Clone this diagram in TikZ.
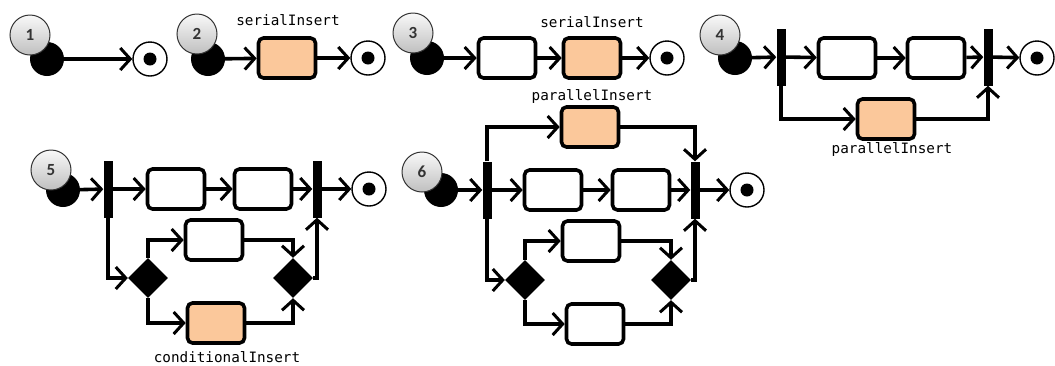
\documentclass[tikz,border=0pt]{standalone}
\usepackage{fontspec}
\usepackage{xcolor}
\usepackage{tikz}
\usetikzlibrary{arrows.meta, positioning, shapes.geometric}
\newfontfamily\numfont{Carlito}
\newfontfamily\codefont{DejaVu Sans Mono}
\definecolor{insfill}{RGB}{251,200,155}

\begin{document}
\begin{tikzpicture}[x=1pt, y=-1pt, % pixel grid, y downwards
          flow/.style={line width=3.6pt, -{Straight Barb[length=10pt, width=22pt, line width=3pt]}},
          numball/.style={circle, draw=black!80, line width=1pt, top color=gray!5, bottom color=gray!50, minimum size=40pt, inner sep=0pt, text=black!80, font=\numfont\fontsize{17}{17}\selectfont\bfseries},
          start/.style={circle, fill=black, minimum size=34pt, inner sep=0pt},
          final/.style={circle, draw, fill=white, line width=1.4pt, minimum size=34pt, inner sep=0pt, path picture={\fill[black] (path picture bounding box.center) circle (6.5pt);}},
          act/.style={rectangle, rounded corners=5pt, draw, line width=3.6pt, fill=white, minimum width=57pt, minimum height=40pt, inner sep=0pt},
          ins/.style={act, fill=insfill},
          bar/.style={rectangle, fill=black, minimum width=9pt, minimum height=57pt, inner sep=0pt},
          choice/.style={diamond, fill=black, minimum size=40pt, inner sep=0pt},
          label/.style={font=\codefont\fontsize{14.3}{16}\selectfont}
        ]
        \useasboundingbox (0,0) rectangle (1055,365);

        % 1: start -> end
        \node[start] (s1) at (47,59) {};
        \node[numball] (n1) at (30,35) {1};
        \node[final] (e1) at (150,59) {};
        \draw[flow] (s1) -- (e1);

        % 2: serial insert into empty flow
        \node[start] (s2) at (208,59) {};
        \node[numball] (n2) at (197,34) {2};
        \node[ins] (i2) at (287,58) {};
        \node[label] (l2) at (288,20) {serialInsert};
        \node[final] (e2) at (368,58) {};
        \draw[flow] (s2) -- (i2);
        \draw[flow] (i2) -- (e2);

        % 3: serial insert after an activity
        \node[start] (s3) at (427,58) {};
        \node[numball] (n3) at (413,33) {3};
        \node[act] (a3) at (507,58) {};
        \node[ins] (i3) at (592,58) {};
        \node[label] (l3) at (592,22) {serialInsert};
        \node[final] (e3) at (667,58) {};
        \draw[flow] (s3) -- (a3);
        \draw[flow] (a3) -- (i3);
        \draw[flow] (i3) -- (e3);

        % 4: parallel insert
        \node[start] (s4) at (735,58) {};
        \node[numball] (n4) at (720,35) {4};
        \node[bar] (f4) at (781,57) {};
        \node[act] (a4) at (847,58) {};
        \node[act] (b4) at (936,58) {};
        \node[bar] (j4) at (988,57) {};
        \node[final] (e4) at (1037,58) {};
        \node[ins] (i4) at (886,119) {};
        \node[label] (l4) at (892,150) {parallelInsert};
        \draw[flow] (s4) -- (f4);
        \draw[flow] (f4) -- (a4);
        \draw[flow] (a4) -- (b4);
        \draw[flow] (b4) -- (j4);
        \draw[flow] (j4) -- (e4);
        \draw[flow] (f4.south) |- (i4.west);
        \draw[flow] (i4.east) -| (j4.south);

        % 5: conditional insert
        \node[start] (s5) at (63,190) {};
        \node[numball] (n5) at (51,170) {5};
        \node[bar] (f5) at (108,189) {};
        \node[act] (a5) at (176,189) {};
        \node[act] (b5) at (263,189) {};
        \node[bar] (j5) at (317,189) {};
        \node[final] (e5) at (369,189) {};
        \node[act] (m5) at (214,240) {};
        \node[choice] (d5) at (148,278) {};
        \node[choice] (c5) at (293,278) {};
        \node[ins] (i5) at (216,323) {};
        \node[label] (l5) at (227,357) {conditionalInsert};
        \draw[flow] (s5) -- (f5);
        \draw[flow] (f5) -- (a5);
        \draw[flow] (a5) -- (b5);
        \draw[flow] (b5) -- (j5);
        \draw[flow] (j5) -- (e5);
        \draw[flow] (f5.south) |- (d5.west);
        \draw[flow] (d5.north) |- (m5.west);
        \draw[flow] (m5.east) -| (c5.north);
        \draw[flow] (d5.south) |- (i5.west);
        \draw[flow] (i5.east) -| (c5.south);
        \draw[flow] (c5.east) -| (j5.south);

        % 6: parallel insert around the whole flow
        \node[start] (s6) at (441,190) {};
        \node[numball] (n6) at (422,172) {6};
        \node[bar] (f6) at (487,190) {};
        \node[act] (a6) at (553,190) {};
        \node[act] (b6) at (641,190) {};
        \node[bar] (j6) at (695,190) {};
        \node[final] (e6) at (747,190) {};
        \node[ins] (i6) at (590,127) {};
        \node[label] (l6) at (592,97) {parallelInsert};
        \node[act] (m6) at (591,241) {};
        \node[choice] (d6) at (525,280) {};
        \node[choice] (c6) at (671,280) {};
        \node[act] (k6) at (595,324) {};
        \draw[flow] (s6) -- (f6);
        \draw[flow] (f6) -- (a6);
        \draw[flow] (a6) -- (b6);
        \draw[flow] (b6) -- (j6);
        \draw[flow] (j6) -- (e6);
        \draw[flow] (f6.north) |- (i6.west);
        \draw[flow] (i6.east) -| (j6.north);
        \draw[flow] (f6.south) |- (d6.west);
        \draw[flow] (d6.north) |- (m6.west);
        \draw[flow] (m6.east) -| (c6.north);
        \draw[flow] (d6.south) |- (k6.west);
        \draw[flow] (k6.east) -| (c6.south);
        \draw[flow] (c6.east) -| (j6.south);

        \end{tikzpicture}
\end{document}
